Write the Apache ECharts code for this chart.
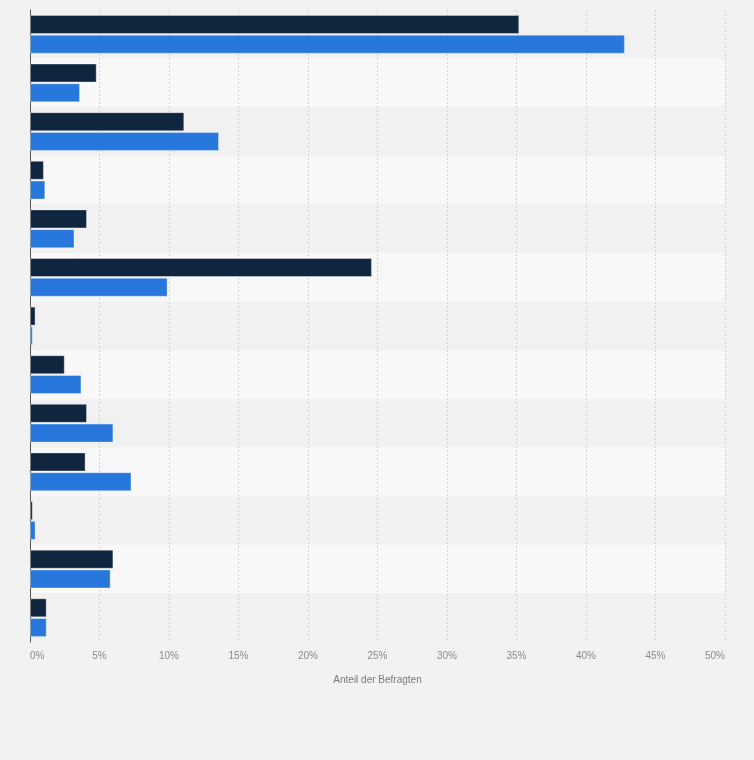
<!DOCTYPE html>
<html>
<head>
<meta charset="utf-8">
<script src="https://cdn.jsdelivr.net/npm/echarts@6/dist/echarts.min.js"></script>
<style>
  html, body { margin: 0; padding: 0; background: #f2f2f2; }
  #chart { width: 754px; height: 760px; }
</style>
</head>
<body>
<div id="chart"></div>
<script>
// category names are not shown in the picture, so plain placeholders are used
const categories = ['1', '2', '3', '4', '5', '6', '7', '8', '9', '10', '11', '12', '13']
const seriesDark = [35.2, 4.8, 11.1, 1.0, 4.1, 24.6, 0.4, 2.5, 4.1, 4.0, 0.2, 6.0, 1.2]
const seriesBlue = [42.8, 3.6, 13.6, 1.1, 3.2, 9.9, 0.2, 3.7, 6.0, 7.3, 0.4, 5.8, 1.2]
const xTicks = [0, 5, 10, 15, 20, 25, 30, 35, 40, 45, 50]

const chart = echarts.init(document.getElementById('chart'))

const option = {
  backgroundColor: '#f2f2f2',
  animation: false,
  grid: { left: 30, right: 29, top: 10, bottom: 118, containLabel: false },
  xAxis: {
    type: 'value',
    min: xTicks[0],
    max: xTicks[xTicks.length - 1],
    interval: 5,
    name: 'Anteil der Befragten',
    nameLocation: 'middle',
    nameGap: 33,
    nameTextStyle: { color: '#7a7a7a', fontSize: 10, fontFamily: 'Liberation Sans' },
    axisLine: { show: false },
    axisTick: { show: false },
    axisLabel: {
      color: '#8a8a8a',
      fontSize: 10,
      fontFamily: 'Liberation Sans',
      margin: 9,
      alignMinLabel: 'left',
      alignMaxLabel: 'right',
      formatter: v => v + '%'
    },
    splitLine: { lineStyle: { color: '#d2d2d2', type: [2, 2], width: 1 } }
  },
  yAxis: {
    type: 'category',
    data: categories,
    inverse: true,
    axisLabel: { show: false },
    axisTick: { show: false },
    axisLine: { show: true, lineStyle: { color: '#555', width: 1 } },
    splitArea: { show: true, areaStyle: { color: ['#f1f1f1', '#f8f8f8'] } }
  },
  series: [
    {
      name: 'A',
      type: 'bar',
      data: seriesDark,
      barWidth: 19,
      barGap: '4%',
      itemStyle: { color: '#10263f', borderColor: 'rgba(255,255,255,0.35)', borderWidth: 1 }
    },
    {
      name: 'B',
      type: 'bar',
      data: seriesBlue,
      barWidth: 19,
      itemStyle: { color: '#2777dc', borderColor: 'rgba(255,255,255,0.35)', borderWidth: 1 }
    }
  ]
}

chart.setOption(option)
</script>
</body>
</html>
